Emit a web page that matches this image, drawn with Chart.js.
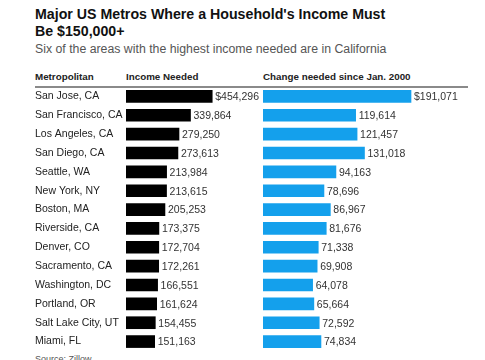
<!DOCTYPE html>
<html>
<head>
<meta charset="utf-8">
<script src="https://cdn.jsdelivr.net/npm/chart.js@4"></script>
<style>
  body { margin: 0; background: #fff; font-family: "Liberation Sans", Arial, sans-serif; }
  #wrap { position: relative; width: 485px; height: 360px; overflow: hidden; }
  .t { position: absolute; white-space: nowrap; }
  #title { left: 35px; top: 6px; font-size: 14.2px; font-weight: bold; line-height: 17px; color: #111; }
  #sub { left: 35px; top: 42px; font-size: 12.3px; color: #555; }
  .hd { top: 71px; font-size: 9.8px; font-weight: bold; color: #222; }
  #rule { position: absolute; left: 35px; top: 86px; width: 433px; height: 2px; background: #8a8a8a; }
  #src { left: 35px; top: 354px; font-size: 9px; color: #555; }
  canvas { position: absolute; }
</style>
</head>
<body>
<div id="wrap">
  <div class="t" id="title">Major US Metros Where a Household's Income Must<br>Be $150,000+</div>
  <div class="t" id="sub">Six of the areas with the highest income needed are in California</div>
  <div class="t hd" style="left:35px">Metropolitan</div>
  <div class="t hd" style="left:126px">Income Needed</div>
  <div class="t hd" style="left:263px">Change needed since Jan. 2000</div>
  <div id="rule"></div>
  <canvas id="c1" width="225" height="264" style="left:35px;top:87px"></canvas>
  <canvas id="c2" width="222" height="264" style="left:263px;top:87px"></canvas>
  <div class="t" id="src">Source: Zillow</div>
</div>
<script>
const metros = ['San Jose, CA', 'San Francisco, CA', 'Los Angeles, CA', 'San Diego, CA', 'Seattle, WA',
    'New York, NY', 'Boston, MA', 'Riverside, CA', 'Denver, CO', 'Sacramento, CA', 'Washington, DC',
    'Portland, OR', 'Salt Lake City, UT', 'Miami, FL'];
const incomeNeeded = [454296, 339864, 279250, 273613, 213984, 213615, 205253, 173375, 172704, 172261,
    166551, 161624, 154455, 151163];
const changeSince2000 = [191071, 119614, 121457, 131018, 94163, 78696, 86967, 81676, 71338, 69908,
    64078, 65664, 72592, 74834];

// Zahl mit Komma, erster Wert mit $
const valueLabels = {
    id: 'valueLabels',
    afterDatasetsDraw(chart) {
        const ctx = chart.ctx;
        const meta = chart.getDatasetMeta(0);
        ctx.save();
        ctx.font = '10.5px "Liberation Sans", Arial, sans-serif';
        ctx.fillStyle = '#333';
        ctx.textBaseline = 'middle';
        meta.data.forEach((bar, i) => {
            const v = chart.data.datasets[0].data[i].toLocaleString('en-US');
            ctx.fillText((i === 0 ? '$' : '') + v, bar.x + 3, bar.y + 1);
        });
        ctx.restore();
    }
};

function makeChart(id, labels, data, color, max, showNames) {
    return new Chart(document.getElementById(id).getContext('2d'), {
        type: 'bar',
        data: {
            labels: labels,
            datasets: [{ data: data, backgroundColor: color, barThickness: 12 }],
        },
        options: {
            indexAxis: 'y',
            responsive: false,
            animation: false,
            layout: { padding: 0, autoPadding: false },
            plugins: { legend: { display: false }, tooltip: { enabled: false } },
            scales: {
                x: { display: false, min: 0, max: max },
                y: {
                    display: showNames,
                    grid: { display: false },
                    border: { display: false },
                    ticks: {
                        crossAlign: 'far',
                        padding: 0,
                        color: '#222',
                        font: { size: 10.5, family: '"Liberation Sans", Arial, sans-serif' },
                    },
                    afterFit: showNames ? (s) => { s.width = 91; s.paddingTop = 0; s.paddingBottom = 0; } : undefined,
                },
            },
        },
        plugins: [valueLabels],
    });
}

makeChart('c1', metros, incomeNeeded, '#000', 706000, true);
makeChart('c2', metros, changeSince2000, '#14a0ec', 286600, false);
</script>
</body>
</html>
